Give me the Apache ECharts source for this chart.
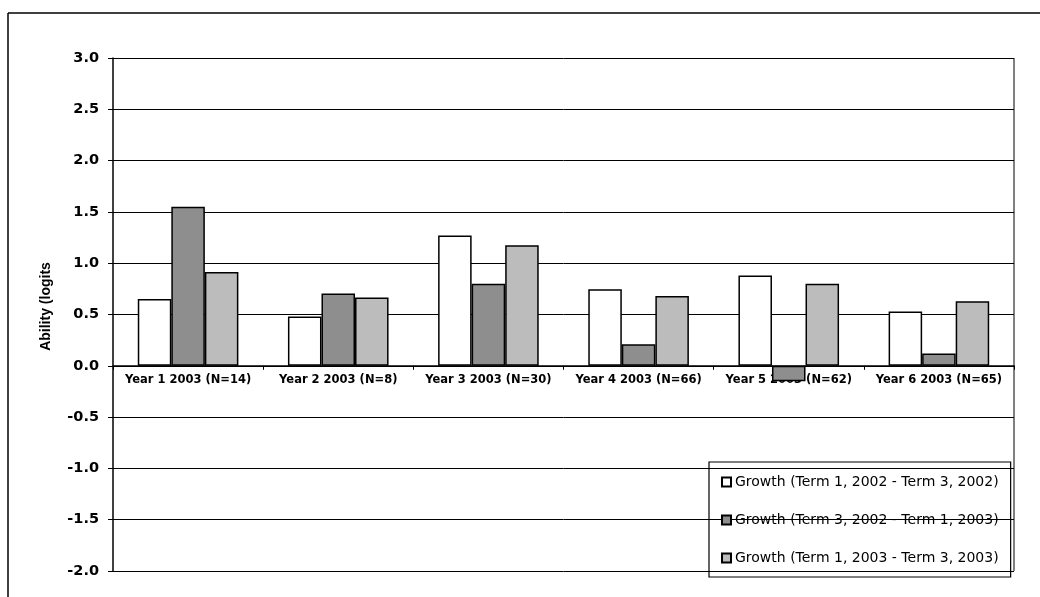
<!DOCTYPE html>
<html><head><meta charset="utf-8">
<script src="https://cdn.jsdelivr.net/npm/echarts@6/dist/echarts.min.js"></script>
<style>html,body{margin:0;padding:0;background:#fff}#c{width:1040px;height:597px}</style>
</head><body><div id="c"></div>
<script>
const categories = ['Year 1 2003 (N=14)','Year 2 2003 (N=8)','Year 3 2003 (N=30)','Year 4 2003 (N=66)','Year 5 2003 (N=62)','Year 6 2003 (N=65)'];
const seriesNames = ['Growth (Term 1, 2002 - Term 3, 2002)','Growth (Term 3, 2002 - Term 1, 2003)','Growth (Term 1, 2003 - Term 3, 2003)'];
const growth1 = [0.65, 0.48, 1.27, 0.745, 0.88, 0.53];
const growth2 = [1.55, 0.705, 0.80, 0.21, -0.15, 0.12];
const growth3 = [0.915, 0.665, 1.175, 0.68, 0.80, 0.63];
const yTicks = [-2.0, -1.5, -1.0, -0.5, 0.0, 0.5, 1.0, 1.5, 2.0, 2.5, 3.0];

const fills = ['#ffffff', '#8e8e8e', '#bcbcbc'];
const chart = echarts.init(document.getElementById('c'));
const font = 'Liberation Sans, Arial, sans-serif';
const wide = 'DejaVu Sans, sans-serif';
const gridTop = 58, gridBottom = 26, H = 597;
const yMin = yTicks[0], yMax = yTicks[yTicks.length - 1];
const zeroOffset = -((0 - yMin) / (yMax - yMin)) * (H - gridTop - gridBottom);
chart.setOption({
  animation: false,
  textStyle: {fontFamily: font},
  grid: {left: 113, right: 26, top: gridTop, bottom: gridBottom},
  graphic: [
    {type: 'line', shape: {x1: 8, y1: 13, x2: 1040, y2: 13}, style: {stroke: '#000', lineWidth: 1.5}},
    {type: 'line', shape: {x1: 8, y1: 13, x2: 8, y2: 597}, style: {stroke: '#000', lineWidth: 1.5}},
    {type: 'line', shape: {x1: 1014, y1: 58, x2: 1014, y2: 571}, style: {stroke: '#000', lineWidth: 1}}
  ],
  legend: {
    orient: 'vertical', left: 709, top: 462,
    data: seriesNames,
    borderColor: '#000', borderWidth: 1.2,
    padding: [13, 12, 12, 12],
    itemGap: 24, itemWidth: 9, itemHeight: 9,
    icon: 'rect',
    textStyle: {fontFamily: wide, fontSize: 14, color: '#000', padding: [0, 0, 0, -1]}
  },
  xAxis: {
    type: 'category', data: categories, position: 'bottom',
    offset: zeroOffset,
    axisLine: {onZero: false, lineStyle: {color: '#000', width: 1.5}},
    axisTick: {show: true, length: 4, lineStyle: {color: '#000'}},
    axisLabel: {fontFamily: wide, fontSize: 11.5, fontWeight: 'bold', color: '#000', margin: 8, interval: 0}
  },
  yAxis: {
    type: 'value', min: yMin, max: yMax, interval: 0.5,
    name: 'Ability (logits', nameLocation: 'middle', nameGap: 60,
    nameTextStyle: {fontFamily: font, fontSize: 14, fontWeight: 'bold', color: '#000', padding: [0, 0, 0, 16]},
    axisLine: {show: true, lineStyle: {color: '#000', width: 1.5}},
    axisTick: {show: true, length: 5, lineStyle: {color: '#000'}},
    axisLabel: {fontFamily: wide, fontSize: 14.5, fontWeight: 'bold', color: '#000', margin: 14,
      formatter: v => v.toFixed(1)},
    splitLine: {show: true, lineStyle: {color: '#000', width: 1}}
  },
  series: [growth1, growth2, growth3].map((d, i) => ({
    name: seriesNames[i], type: 'bar', data: d,
    barGap: '0%', barCategoryGap: '33%',
    itemStyle: {color: fills[i], borderColor: '#000', borderWidth: 1.5}
  }))
});
</script></body></html>
